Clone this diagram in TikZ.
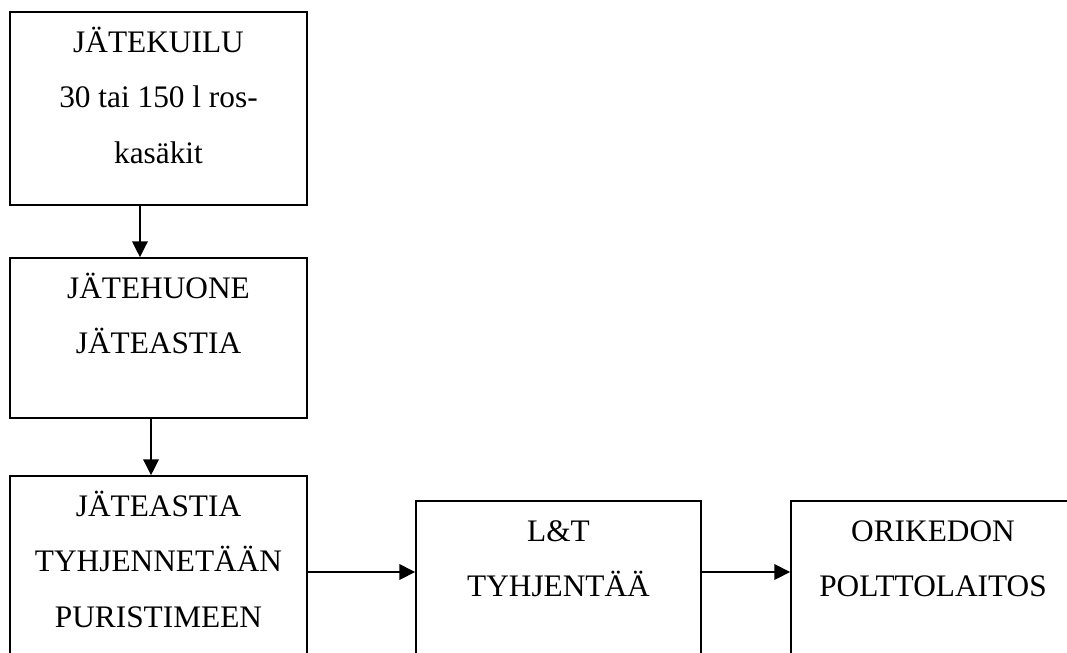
\documentclass[tikz,border=0pt]{standalone}
\usepackage{fontspec}
\setmainfont{Liberation Serif}
\usetikzlibrary{arrows.meta}

\tikzset{
    stagebox/.style={draw, line width=1.1pt, inner sep=0pt},
    stagetext/.style={anchor=north, inner sep=0pt, align=center, yshift=-1.5pt,
        font=\fontsize{23.5}{41.6}\selectfont},
    flow/.style={line width=2pt, -{Triangle[length=12pt,width=11.5pt]}}
}

\begin{document}
\begin{tikzpicture}[x=0.75pt,y=-0.75pt]
        \def\colW{222.75pt}
        \def\rowH{149.25pt}

        \useasboundingbox (0,0) rectangle (1067,653);
        \clip (0,0) rectangle (1067,653);

        % Boxes
        \node[stagebox, minimum width=\colW, minimum height=144.75pt] (kuilu) at (158.5,108.5) {};
        \node[stagebox, minimum width=\colW, minimum height=120pt] (huone) at (158.5,338) {};
        \node[stagebox, minimum width=\colW, minimum height=144pt] (puristin) at (158.5,572) {};
        \node[stagebox, minimum width=213.75pt, minimum height=\rowH] (lt) at (558.5,600.5) {};
        \node[stagebox, minimum width=213pt, minimum height=\rowH] (polttolaitos) at (933,600.5) {};

        % Texts
        \node[stagetext] (kuiluText) at (kuilu.north) {\strut JÄTEKUILU\\30 tai 150 l ros-\\kasäkit};
        \node[stagetext] (huoneText) at (huone.north) {\strut JÄTEHUONE\\JÄTEASTIA};
        \node[stagetext] (puristinText) at (puristin.north) {\strut JÄTEASTIA\\TYHJENNETÄÄN\\PURISTIMEEN};
        \node[stagetext] (ltText) at (lt.north) {\strut L\&T\\TYHJENTÄÄ};
        \node[stagetext] (polttolaitosText) at (polttolaitos.north) {\strut ORIKEDON\\POLTTOLAITOS};

        % Flow
        \draw[flow] ([xshift=-13.9pt]kuilu.south) -- ([xshift=-13.9pt]huone.north);
        \draw[flow] ([xshift=-5.6pt]huone.south) -- ([xshift=-5.6pt]puristin.north);
        \draw[flow] (puristin.east) -- (puristin.east -| lt.west);
        \draw[flow] (lt.east |- puristin.east) -- (polttolaitos.west |- puristin.east);
\end{tikzpicture}
\end{document}
